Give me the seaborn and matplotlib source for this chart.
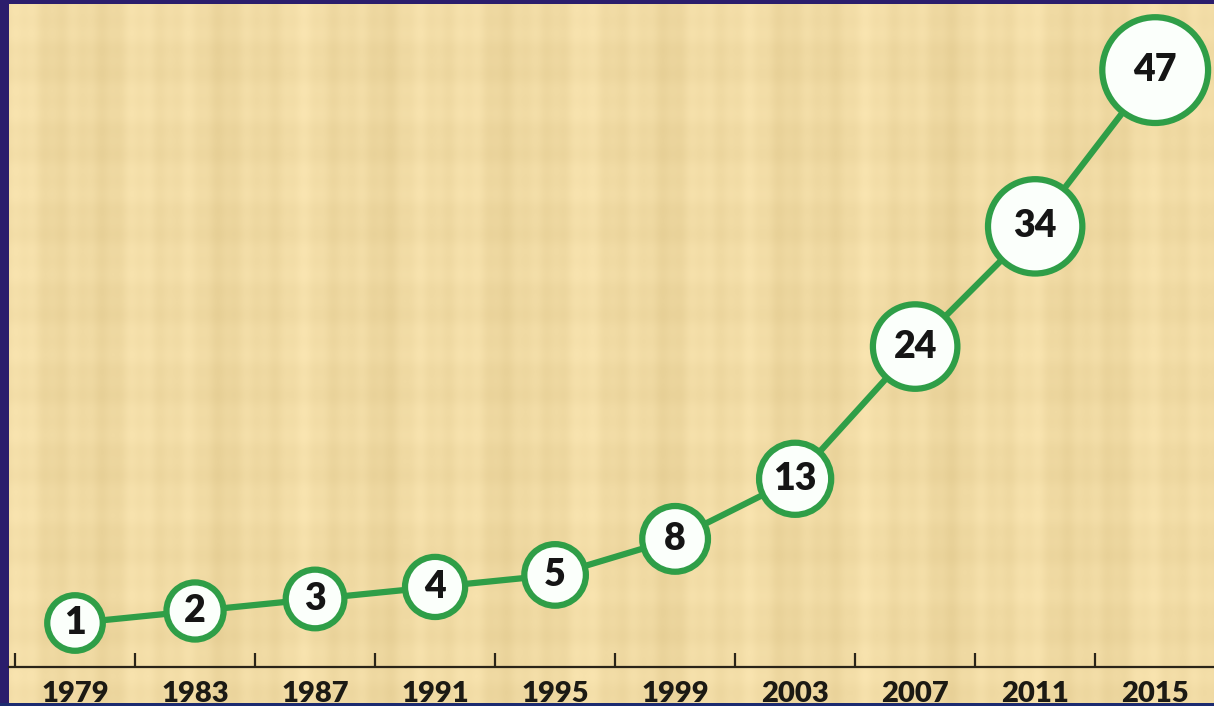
import numpy as np
import pandas as pd
import matplotlib
matplotlib.use("Agg")
import matplotlib.pyplot as plt
import seaborn as sns
from matplotlib.patches import Rectangle

# data
years = ["1979", "1983", "1987", "1991", "1995", "1999", "2003", "2007", "2011", "2015"]
counts = [1, 2, 3, 4, 5, 8, 13, 24, 34, 47]

df = pd.DataFrame({"year": years, "count": counts})
df["pos"] = range(len(df))

green = "#2f9e47"

sns.set_style("white")
plt.rcParams["font.family"] = ["Lato", "DejaVu Sans"]

W, H = 1214, 706
fig = plt.figure(figsize=(W / 100, H / 100), dpi=100)
fig.patch.set_facecolor("#2b1d6c")

# beige papyrus-like background
left = 9 / W
bg = fig.add_axes([left, 3 / H, 1 - left, 1 - 7 / H])
xx = np.arange(W)[None, :]
yy = np.arange(H)[:, None]
shade = (np.sin(xx / 9.0) * 0.4 + np.sin(xx / 23.0 + 1.3) * 0.4 + np.sin(xx / 3.1) * 0.2
         + np.sin(yy / 13.0) * 0.25 + np.sin(yy / 4.3 + 0.7) * 0.15)
base = np.array([240, 218, 163]) / 255.0
tex = np.clip(base[None, None, :] + shade[..., None] * np.array([0.028, 0.032, 0.04]), 0, 1)
bg.imshow(tex, aspect="auto", interpolation="bilinear")
bg.axis("off")

# data axes, bottom spine at the axis line
ax = fig.add_axes([left, (H - 667) / H, 1 - left, (667 - 4) / H])
ax.patch.set_alpha(0)

sns.lineplot(data=df, x="pos", y="count", color=green, linewidth=4.5, ax=ax, zorder=2)
sns.scatterplot(data=df, x="pos", y="count", size="count", sizes=(1600, 5800),
                color="#fbfffb", edgecolor=green, linewidth=4.5, legend=False,
                ax=ax, zorder=3, clip_on=False)
for x, v in zip(df["pos"], df["count"]):
    ax.text(x, v, str(v), ha="center", va="center", fontsize=27,
            fontweight="heavy", color="#151515", zorder=4)

ax.set_xlim(-0.55, 9.49)
ax.set_ylim(-2.66, 52.5)
ax.set_xticks(df["pos"])
ax.set_xticklabels(years, fontsize=21, fontweight="heavy", color="#1c1a14")
ax.tick_params(axis="x", which="major", bottom=False, length=0, pad=10)
ax.set_xticks(np.arange(-0.5, 9, 1), minor=True)
ax.tick_params(axis="x", which="minor", bottom=True, direction="in", length=10,
               width=1.6, color="#2a2418")
ax.set_yticks([])
ax.set_xlabel("")
ax.set_ylabel("")
for s in ["left", "right", "top"]:
    ax.spines[s].set_visible(False)
ax.spines["bottom"].set_color("#2a2418")
ax.spines["bottom"].set_linewidth(1.6)

# bottom border covering the label feet
fig.patches.append(Rectangle((0, 0), 1, 3 / H, transform=fig.transFigure,
                             facecolor="#1c2b70", edgecolor="none", zorder=10))

fig.savefig("out.png", dpi=100, facecolor=fig.get_facecolor())
